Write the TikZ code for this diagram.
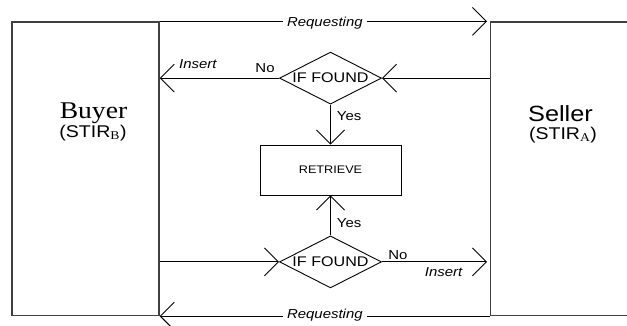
\documentclass[tikz,border=0pt]{standalone}
\usepackage{fontspec}
\newfontfamily\arialw[FakeStretch=1.15]{Liberation Sans}
\newfontfamily\timesw[FakeStretch=1.15]{Liberation Serif}
\usetikzlibrary{arrows.meta,positioning,shapes.geometric}

\begin{document}
\begin{tikzpicture}[x=1pt, y=-1pt]
\tikzstyle{party}=[rectangle, draw=black!75, line width=1.3pt, minimum width=147pt, minimum height=293.5pt, inner sep=0pt]
\tikzstyle{check}=[diamond, aspect=2, draw, line width=0.9pt, minimum width=102pt, minimum height=52pt, inner sep=0pt, font=\arialw\fontsize{14}{16}\selectfont]
\tikzstyle{box}=[rectangle, draw, line width=0.9pt, minimum width=141pt, minimum height=50pt, font=\arialw\fontsize{11}{13}\selectfont]
\tikzstyle{connect}=[-{Straight Barb[length=14pt, width=28pt]}, line width=0.9pt]
\tikzstyle{lbl}=[inner sep=0pt, font=\arialw\fontsize{13}{15}\selectfont]
\tikzstyle{act}=[inner sep=0pt, font=\arialw\itshape\fontsize{13}{15}\selectfont]
\tikzstyle{req}=[act, fill=white, inner xsep=4pt, inner ysep=1pt]



% 1. Frame
%%%%%%%%%%
\clip (0,0) rectangle (627,325);


% 2. Nodes
%%%%%%%%%%
\node[party] (buyer) at (85.5,168.75) {};
\node[party] (seller) at (564.2,168.75) {};
\node[box] (retrieve) at (330.5,170) {RETRIEVE};
\node[check] (topif) [above=40pt of retrieve] {IF FOUND};
\node[check] (botif) [below=40pt of retrieve] {IF FOUND};

\node[anchor=base, inner sep=0pt, font=\timesw\fontsize{24}{26}\selectfont] (buyername) at (93.5,118) {Buyer};
\node[anchor=base, inner sep=0pt, font=\arialw\fontsize{17}{19}\selectfont] (buyerid) at (93,137) {(STIR\textsubscript{\timesw B})};
\node[anchor=base, inner sep=0pt, font=\arialw\fontsize{22}{24}\selectfont] (sellername) at (560.5,121) {Seller};
\node[anchor=base, inner sep=0pt, font=\arialw\fontsize{17}{19}\selectfont] (sellerid) at (563,139) {(STIR\textsubscript{\timesw A})};

% 3. Arrows
%%%%%%%%%%%
\path (buyer.north east) edge [connect, shorten >=3pt] node[req, yshift=-2.2pt] {Requesting} (seller.north west)
      (seller.west |- topif) edge [connect] (topif.east)
      (topif.west) edge [connect] node[lbl, anchor=south east, pos=0, xshift=-4pt, yshift=5pt] {No}
                                  node[act, anchor=south, pos=0.68, yshift=9pt] {Insert} (buyer.east |- topif)
      (topif.south) edge [connect] node[lbl, anchor=base west, pos=0.39, xshift=6pt] {Yes} (retrieve.north)
      (botif.north) edge [connect] node[lbl, anchor=base west, pos=0.2, xshift=6pt] {Yes} (retrieve.south)
      (buyer.east |- botif) edge [connect] (botif.west)
      (botif.east) edge [connect, shorten >=3pt] node[lbl, anchor=base west, pos=0, xshift=6pt, yshift=2pt] {No}
                                                 node[act, anchor=base, pos=0.57, yshift=-15pt] {Insert} (seller.west |- botif)
      (seller.south west) edge [connect] node[req, yshift=1.3pt] {Requesting} (buyer.south east);

\end{tikzpicture}
\end{document}
